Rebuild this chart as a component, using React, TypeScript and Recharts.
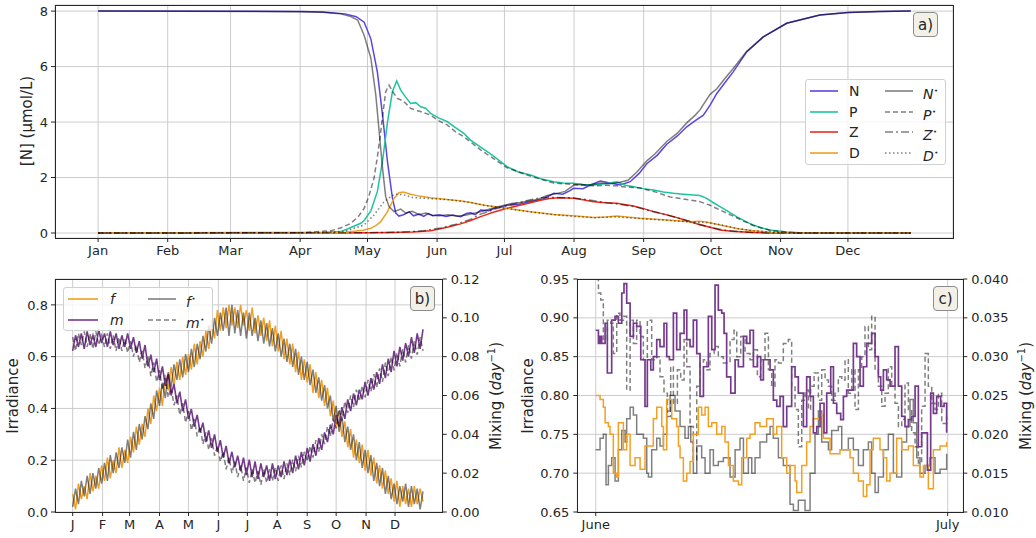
import React from 'react';
import { LineChart, Line, XAxis, YAxis, CartesianGrid } from 'recharts';

const FONT = '"DejaVu Sans", sans-serif';
const INK = '#262626';
const GRID = '#c6c6c6';
const STAR = '#000000';

// colours
const C_N = '#5b46e0';
const C_P = '#1ec4a2';
const C_Z = '#ec2d1e';
const C_D = '#eca128';
const C_F = '#f29f22';
const C_M = '#763a8c';

// ---------- panel a: seasonal NPZD ----------
const MONTH_DAYS = [0, 31, 59, 90, 120, 151, 181, 212, 243, 273, 304, 334];
const MONTHS = ['Jan', 'Feb', 'Mar', 'Apr', 'May', 'Jun', 'Jul', 'Aug', 'Sep', 'Oct', 'Nov', 'Dec'];
const MONTH_LETTERS = ['J', 'F', 'M', 'A', 'M', 'J', 'J', 'A', 'S', 'O', 'N', 'D'];
const A_TICKS = [0, 2, 4, 6, 8];

const N_X = [0, 90, 100, 110, 115, 118.5, 121.5, 124.4, 126.7, 128.9, 131.1, 132.6, 134, 136, 138.6, 140.5, 143, 145, 147, 149, 152, 155, 158, 161.5, 164, 166, 168, 170.4, 174, 177, 180, 182.2, 187, 190, 192.6, 198, 203, 207, 210, 211.8, 216, 219, 223.7, 228, 232.6, 237, 241, 244.4, 249, 253.3, 258, 262.2, 266, 269.6, 272.6, 275.6, 279, 282.9, 288.9, 296.3, 306.7, 321.5, 334, 348, 362];
const N_Y = [8.0, 7.99, 7.97, 7.9, 7.8, 7.6, 7.0, 5.8, 4.25, 2.57, 1.26, 0.72, 0.61, 0.66, 0.76, 0.62, 0.68, 0.6, 0.7, 0.62, 0.66, 0.6, 0.65, 0.59, 0.7, 0.73, 0.66, 0.83, 0.8, 0.9, 0.95, 1.0, 1.03, 1.08, 1.13, 1.22, 1.43, 1.4, 1.52, 1.61, 1.6, 1.72, 1.87, 1.8, 1.73, 1.85, 2.15, 2.5, 2.8, 3.2, 3.5, 3.83, 4.05, 4.25, 4.61, 5.03, 5.4, 5.81, 6.53, 7.07, 7.56, 7.86, 7.95, 7.99, 8.0];

const NS_X = [0, 90, 100, 108, 112.6, 115.6, 118.5, 121.5, 123.7, 125.2, 126.7, 128.1, 129.6, 131.8, 134.8, 137, 140, 143, 146, 149, 152, 156, 160, 164, 168, 172, 176, 180, 184, 188, 192, 196, 200, 204, 208, 212, 215, 218, 221, 224, 228, 232, 236, 240, 244.4, 248, 253.3, 258, 262.2, 266, 268, 272.6, 275.6, 279, 282.9, 288.9, 296.3, 306.7, 321.5, 334, 348, 362];
const NS_Y = [8.0, 7.98, 7.96, 7.9, 7.8, 7.68, 7.13, 6.3, 4.97, 3.65, 2.33, 1.31, 0.95, 0.77, 0.86, 0.72, 0.78, 0.66, 0.72, 0.64, 0.62, 0.66, 0.6, 0.65, 0.72, 0.8, 0.9, 0.98, 1.06, 1.1, 1.15, 1.22, 1.35, 1.42, 1.5, 1.73, 1.75, 1.72, 1.76, 1.8, 1.78, 1.82, 1.9, 2.2, 2.6, 2.85, 3.3, 3.6, 3.97, 4.25, 4.43, 5.0, 5.2, 5.55, 5.93, 6.55, 7.07, 7.56, 7.86, 7.95, 7.99, 8.0];

const P_X = [0, 100, 108.1, 112.6, 117, 118.5, 121.5, 124.4, 126.7, 128.9, 131.1, 133, 134.8, 137, 139.2, 141.5, 143.7, 145.9, 148.1, 151.7, 155.6, 159.2, 162.9, 165.9, 170.4, 174.8, 182.2, 187.2, 192.6, 197.5, 203, 207.2, 211.8, 216.1, 220.7, 225.9, 231.1, 234.8, 238.5, 242.8, 247.4, 251.7, 256.3, 260.6, 263.7, 268.1, 271.1, 273.9, 277, 280.6, 284.4, 288.1, 291.8, 295.2, 299.2, 306.7, 312.6, 321.5, 362];
const P_Y = [0, 0.02, 0.05, 0.2, 0.35, 0.45, 0.8, 1.5, 2.6, 4.0, 5.1, 5.48, 5.15, 4.9, 4.67, 4.7, 4.55, 4.5, 4.31, 4.15, 4.01, 3.8, 3.59, 3.35, 3.1, 2.85, 2.39, 2.2, 2.09, 1.95, 1.85, 1.8, 1.79, 1.75, 1.73, 1.78, 1.85, 1.72, 1.67, 1.6, 1.55, 1.48, 1.43, 1.4, 1.38, 1.35, 1.25, 1.1, 0.95, 0.78, 0.59, 0.43, 0.29, 0.19, 0.11, 0.04, 0.01, 0, 0];

const PS_X = [0, 90.4, 103.7, 108, 112.6, 116, 118.5, 120.5, 122.9, 124.5, 125.9, 127, 128.1, 129.6, 131.2, 133.3, 136.1, 139.2, 142.8, 148.1, 151.7, 155.6, 159.2, 162.9, 170.4, 174.8, 182.2, 192.6, 203, 211.8, 220.7, 225.9, 231.1, 234.8, 241.5, 247.4, 254.8, 261.5, 268.1, 272.6, 277, 284.4, 291.8, 299.2, 306.7, 312.6, 362];
const PS_Y = [0, 0.01, 0.08, 0.18, 0.35, 0.6, 0.89, 1.3, 1.97, 2.8, 3.65, 4.4, 5.09, 5.33, 5.1, 4.85, 4.75, 4.49, 4.4, 4.25, 4.05, 3.89, 3.65, 3.47, 3.0, 2.75, 2.35, 2.05, 1.8, 1.75, 1.7, 1.72, 1.7, 1.66, 1.62, 1.5, 1.3, 1.22, 1.13, 1.0, 0.83, 0.55, 0.27, 0.1, 0.03, 0, 0];

const Z_X = [0, 100, 120, 130, 140, 148.1, 152.6, 156, 161.5, 166, 170.4, 176, 182.2, 187, 192.6, 197, 201.8, 206, 211.8, 216, 220.7, 226, 231.1, 235, 238.5, 243, 247.4, 252, 256.3, 262.2, 268, 273, 277, 282, 291.8, 300, 362];
const Z_Y = [0, 0, 0.01, 0.02, 0.04, 0.08, 0.15, 0.22, 0.33, 0.45, 0.59, 0.75, 0.89, 0.98, 1.09, 1.18, 1.25, 1.27, 1.25, 1.2, 1.13, 1.09, 1.07, 1.02, 0.97, 0.88, 0.77, 0.68, 0.59, 0.45, 0.3, 0.2, 0.11, 0.06, 0.02, 0, 0];

const ZS_X = [0, 120, 135, 145, 152.6, 160, 166, 170.4, 176, 182.2, 187, 192.6, 197, 203, 208, 212, 216, 221, 226, 231, 235, 239, 243, 248, 252, 257, 262, 268, 273, 278, 285, 295, 300, 362];
const ZS_Y = [0, 0.01, 0.03, 0.08, 0.18, 0.33, 0.5, 0.68, 0.84, 1.0, 1.08, 1.2, 1.27, 1.28, 1.27, 1.26, 1.22, 1.16, 1.1, 1.05, 1.0, 0.95, 0.86, 0.76, 0.68, 0.57, 0.45, 0.31, 0.2, 0.12, 0.05, 0.01, 0, 0];

const D_X = [0, 100, 110, 118, 121.5, 124, 125.9, 128.9, 131.8, 134, 136, 139.2, 143, 148.1, 155.6, 162, 166, 172, 182.2, 192.6, 203, 211.8, 220.7, 226, 231.1, 241.5, 253.3, 263.7, 268, 271, 277, 285, 291.8, 300, 310, 362];
const D_Y = [0, 0, 0.03, 0.1, 0.17, 0.28, 0.41, 0.77, 1.25, 1.45, 1.48, 1.4, 1.33, 1.27, 1.21, 1.15, 1.1, 1.0, 0.89, 0.77, 0.67, 0.62, 0.56, 0.58, 0.61, 0.53, 0.47, 0.41, 0.42, 0.4, 0.29, 0.15, 0.08, 0.03, 0, 0];

const DS_X = [0, 100, 110, 118.5, 122.9, 127.4, 131, 133, 136, 140, 148, 156, 166, 172, 182.2, 192.6, 203, 212, 221, 226, 231, 241.5, 253, 263.7, 271, 277, 285, 292, 300, 310, 362];
const DS_Y = [0, 0.01, 0.06, 0.29, 0.65, 1.13, 1.35, 1.4, 1.38, 1.28, 1.24, 1.2, 1.1, 1.0, 0.88, 0.76, 0.66, 0.6, 0.55, 0.57, 0.58, 0.52, 0.46, 0.4, 0.38, 0.3, 0.16, 0.08, 0.03, 0, 0];

// ---------- panel b: yearly forcing (every 3 days) ----------
const B_DAYS = [
  0, 3, 6, 9, 12, 15, 18, 21, 24, 27,
  30, 33, 36, 39, 42, 45, 48, 51, 54, 57,
  60, 63, 66, 69, 72, 75, 78, 81, 84, 87,
  90, 93, 96, 99, 102, 105, 108, 111, 114, 117,
  120, 123, 126, 129, 132, 135, 138, 141, 144, 147,
  150, 153, 156, 159, 162, 165, 168, 171, 174, 177,
  180, 183, 186, 189, 192, 195, 198, 201, 204, 207,
  210, 213, 216, 219, 222, 225, 228, 231, 234, 237,
  240, 243, 246, 249, 252, 255, 258, 261, 264, 267,
  270, 273, 276, 279, 282, 285, 288, 291, 294, 297,
  300, 303, 306, 309, 312, 315, 318, 321, 324, 327,
  330, 333, 336, 339, 342, 345, 348, 351, 354, 357,
  360, 363,
];
const B_F = [
  0.07, 0.01, 0.11, 0.05, 0.10, 0.05, 0.15, 0.08, 0.14, 0.09,
  0.18, 0.12, 0.21, 0.13, 0.20, 0.15, 0.25, 0.17, 0.24, 0.19,
  0.29, 0.23, 0.33, 0.26, 0.34, 0.29, 0.40, 0.34, 0.45, 0.39,
  0.48, 0.41, 0.53, 0.47, 0.56, 0.49, 0.58, 0.51, 0.60, 0.53,
  0.61, 0.55, 0.65, 0.57, 0.66, 0.60, 0.70, 0.63, 0.74, 0.67,
  0.78, 0.70, 0.79, 0.71, 0.80, 0.72, 0.79, 0.71, 0.80, 0.72,
  0.78, 0.70, 0.79, 0.69, 0.76, 0.68, 0.75, 0.66, 0.74, 0.64,
  0.72, 0.62, 0.70, 0.59, 0.67, 0.57, 0.65, 0.54, 0.62, 0.51,
  0.59, 0.50, 0.57, 0.46, 0.54, 0.44, 0.51, 0.41, 0.48, 0.37,
  0.43, 0.33, 0.39, 0.29, 0.35, 0.25, 0.32, 0.21, 0.28, 0.19,
  0.26, 0.16, 0.24, 0.14, 0.21, 0.11, 0.18, 0.09, 0.16, 0.07,
  0.13, 0.04, 0.12, 0.02, 0.10, 0.03, 0.09, 0.02, 0.10, 0.03,
  0.09, 0.04,
];
const B_FS = [
  0.02, 0.09, 0.03, 0.12, 0.06, 0.14, 0.07, 0.15, 0.09, 0.17,
  0.11, 0.19, 0.12, 0.22, 0.15, 0.23, 0.17, 0.25, 0.19, 0.28,
  0.21, 0.31, 0.24, 0.34, 0.28, 0.37, 0.32, 0.42, 0.36, 0.47,
  0.41, 0.50, 0.44, 0.54, 0.48, 0.57, 0.51, 0.59, 0.52, 0.61,
  0.54, 0.63, 0.56, 0.65, 0.59, 0.68, 0.62, 0.72, 0.65, 0.75,
  0.68, 0.77, 0.70, 0.79, 0.68, 0.80, 0.69, 0.78, 0.68, 0.77,
  0.67, 0.77, 0.68, 0.75, 0.66, 0.74, 0.65, 0.73, 0.64, 0.71,
  0.62, 0.69, 0.60, 0.67, 0.58, 0.65, 0.56, 0.63, 0.53, 0.60,
  0.51, 0.58, 0.49, 0.55, 0.46, 0.52, 0.43, 0.49, 0.40, 0.45,
  0.35, 0.41, 0.31, 0.37, 0.27, 0.33, 0.24, 0.30, 0.20, 0.27,
  0.17, 0.24, 0.15, 0.22, 0.12, 0.19, 0.10, 0.17, 0.07, 0.14,
  0.05, 0.11, 0.03, 0.10, 0.04, 0.11, 0.02, 0.10, 0.03, 0.09,
  0.01, 0.08,
];
const B_M = [
  0.083, 0.091, 0.085, 0.092, 0.084, 0.093, 0.086, 0.091, 0.085, 0.094,
  0.087, 0.092, 0.085, 0.093, 0.086, 0.092, 0.084, 0.091, 0.085, 0.092,
  0.084, 0.090, 0.082, 0.088, 0.079, 0.086, 0.075, 0.081, 0.072, 0.079,
  0.068, 0.075, 0.065, 0.071, 0.060, 0.066, 0.056, 0.062, 0.052, 0.058,
  0.048, 0.053, 0.044, 0.050, 0.041, 0.046, 0.036, 0.042, 0.033, 0.040,
  0.031, 0.037, 0.028, 0.034, 0.025, 0.031, 0.023, 0.029, 0.021, 0.028,
  0.019, 0.027, 0.018, 0.026, 0.017, 0.025, 0.018, 0.024, 0.016, 0.025,
  0.017, 0.024, 0.018, 0.026, 0.019, 0.027, 0.020, 0.029, 0.022, 0.031,
  0.024, 0.033, 0.026, 0.035, 0.029, 0.038, 0.032, 0.041, 0.036, 0.045,
  0.040, 0.050, 0.044, 0.054, 0.048, 0.058, 0.052, 0.061, 0.055, 0.063,
  0.058, 0.067, 0.060, 0.069, 0.063, 0.072, 0.066, 0.076, 0.069, 0.079,
  0.072, 0.083, 0.075, 0.085, 0.078, 0.087, 0.080, 0.090, 0.082, 0.092,
  0.084, 0.094,
];
const B_MS = [
  0.090, 0.083, 0.092, 0.086, 0.093, 0.085, 0.092, 0.084, 0.093, 0.086,
  0.091, 0.085, 0.092, 0.084, 0.091, 0.083, 0.090, 0.083, 0.089, 0.082,
  0.088, 0.080, 0.086, 0.077, 0.083, 0.074, 0.080, 0.070, 0.077, 0.067,
  0.073, 0.063, 0.069, 0.059, 0.064, 0.055, 0.060, 0.050, 0.056, 0.046,
  0.052, 0.042, 0.048, 0.039, 0.044, 0.035, 0.041, 0.032, 0.038, 0.029,
  0.034, 0.026, 0.031, 0.022, 0.028, 0.020, 0.026, 0.018, 0.024, 0.016,
  0.023, 0.015, 0.022, 0.015, 0.021, 0.014, 0.022, 0.015, 0.022, 0.016,
  0.023, 0.016, 0.024, 0.017, 0.025, 0.019, 0.027, 0.021, 0.029, 0.023,
  0.031, 0.026, 0.034, 0.028, 0.037, 0.031, 0.040, 0.035, 0.044, 0.039,
  0.048, 0.043, 0.053, 0.047, 0.057, 0.051, 0.060, 0.054, 0.063, 0.057,
  0.065, 0.059, 0.068, 0.062, 0.071, 0.064, 0.074, 0.067, 0.077, 0.070,
  0.080, 0.073, 0.082, 0.075, 0.084, 0.077, 0.086, 0.079, 0.088, 0.081,
  0.090, 0.083,
];

// ---------- panel c: June detail ----------
const CF_X = [0, 0.37, 0.65, 0.8, 1.08, 1.22, 1.5, 1.79, 1.93, 2.36, 2.64, 2.93, 3.35, 3.78, 4.2, 4.91, 5.2, 5.63, 5.77, 6.05, 6.48, 6.9, 7.05, 7.19, 7.47, 7.76, 8.04, 8.32, 8.75, 9.03, 9.32, 9.6, 9.89, 10.31, 10.74, 11.02, 11.31, 11.73, 12.16, 12.44, 12.87, 13.15, 13.58, 14.0, 14.57, 15.14, 15.43, 15.85, 16.28, 16.56, 16.99, 17.13, 17.56, 17.98, 18.27, 18.55, 19.12, 19.4, 19.97, 20.82, 21.68, 21.96, 22.39, 22.81, 23.1, 23.38, 23.66, 24.23, 24.52, 24.8, 25.09, 25.65, 26.08, 26.65, 27.07, 27.64, 27.93, 28.35, 28.78, 29.35, 29.91];
const CF_Y = [0.80, 0.795, 0.785, 0.765, 0.76, 0.75, 0.70, 0.695, 0.765, 0.73, 0.75, 0.71, 0.72, 0.705, 0.735, 0.77, 0.785, 0.76, 0.73, 0.795, 0.77, 0.76, 0.735, 0.72, 0.69, 0.70, 0.715, 0.75, 0.785, 0.775, 0.785, 0.76, 0.765, 0.75, 0.76, 0.74, 0.71, 0.69, 0.685, 0.72, 0.745, 0.75, 0.765, 0.76, 0.77, 0.75, 0.76, 0.72, 0.70, 0.71, 0.69, 0.675, 0.71, 0.74, 0.76, 0.77, 0.775, 0.745, 0.725, 0.73, 0.72, 0.70, 0.69, 0.67, 0.685, 0.73, 0.745, 0.73, 0.72, 0.69, 0.70, 0.745, 0.73, 0.735, 0.71, 0.695, 0.71, 0.68, 0.73, 0.735, 0.74];

const CFS_X = [0, 0.37, 0.65, 0.88, 1.08, 1.36, 1.65, 1.93, 2.22, 2.5, 2.64, 2.93, 3.21, 3.49, 4.06, 4.35, 4.49, 4.77, 5.2, 5.48, 5.77, 6.05, 6.34, 6.76, 7.19, 7.61, 7.9, 8.1, 8.32, 8.61, 9.03, 9.32, 9.74, 10.03, 10.45, 10.88, 11.45, 11.88, 12.3, 12.59, 13.01, 13.3, 13.58, 14.0, 14.57, 14.86, 15.14, 15.57, 15.99, 16.56, 16.85, 17.27, 17.84, 18.27, 18.69, 18.98, 19.26, 19.83, 20.11, 20.68, 20.97, 21.53, 21.96, 22.39, 22.81, 23.24, 23.52, 23.81, 24.09, 24.52, 24.94, 25.37, 25.65, 26.08, 26.5, 26.79, 27.07, 27.36, 27.64, 28.07, 28.49, 28.92, 29.35, 29.91];
const CFS_Y = [0.73, 0.745, 0.75, 0.685, 0.71, 0.72, 0.69, 0.73, 0.755, 0.74, 0.77, 0.785, 0.775, 0.75, 0.745, 0.70, 0.695, 0.73, 0.745, 0.735, 0.75, 0.78, 0.80, 0.78, 0.76, 0.745, 0.76, 0.74, 0.70, 0.735, 0.72, 0.70, 0.73, 0.71, 0.715, 0.72, 0.695, 0.73, 0.745, 0.70, 0.72, 0.70, 0.72, 0.74, 0.75, 0.76, 0.745, 0.72, 0.71, 0.66, 0.652, 0.665, 0.652, 0.70, 0.75, 0.78, 0.74, 0.73, 0.755, 0.76, 0.73, 0.745, 0.73, 0.71, 0.73, 0.74, 0.70, 0.675, 0.695, 0.73, 0.75, 0.70, 0.695, 0.74, 0.76, 0.795, 0.765, 0.72, 0.70, 0.71, 0.72, 0.70, 0.705, 0.725];

const CM_X = [0, 0.23, 0.37, 0.51, 0.8, 0.99, 1.36, 1.65, 1.93, 2.22, 2.41, 2.64, 2.93, 3.21, 3.49, 3.84, 4.2, 4.4, 4.69, 4.91, 5.2, 5.48, 5.82, 6.05, 6.28, 6.62, 6.9, 7.19, 7.53, 7.76, 8.04, 8.32, 8.61, 8.89, 9.18, 9.6, 9.89, 10.17, 10.45, 10.74, 10.94, 11.16, 11.51, 11.88, 12.16, 12.59, 12.87, 13.15, 13.44, 13.78, 14.06, 14.29, 14.86, 15.14, 15.43, 15.71, 15.99, 16.28, 16.7, 16.99, 17.27, 17.7, 17.98, 18.27, 18.55, 18.84, 19.12, 19.46, 19.69, 20.03, 20.26, 20.54, 20.88, 21.11, 21.39, 21.96, 22.24, 22.53, 22.81, 23.1, 23.52, 23.81, 24.09, 24.29, 24.52, 24.8, 25.09, 25.51, 25.8, 26.08, 26.36, 26.65, 26.93, 27.22, 27.5, 27.78, 28.27, 28.55, 28.78, 29.06, 29.4, 29.69, 29.91];
const CM_Y = [0.0334, 0.0317, 0.0326, 0.0317, 0.0343, 0.0279, 0.0347, 0.0352, 0.0343, 0.0382, 0.0394, 0.0369, 0.0326, 0.0343, 0.0339, 0.0296, 0.0236, 0.0296, 0.0283, 0.0300, 0.0322, 0.0313, 0.0343, 0.0300, 0.0296, 0.0356, 0.0309, 0.0330, 0.0360, 0.0322, 0.0313, 0.0347, 0.0304, 0.0249, 0.0287, 0.0352, 0.0309, 0.0392, 0.0360, 0.0356, 0.0330, 0.0274, 0.0253, 0.0296, 0.0287, 0.0326, 0.0317, 0.0334, 0.0287, 0.0300, 0.0270, 0.0296, 0.0283, 0.0244, 0.0236, 0.0249, 0.0210, 0.0236, 0.0287, 0.0274, 0.0253, 0.0210, 0.0274, 0.0249, 0.0202, 0.0210, 0.0240, 0.0202, 0.0253, 0.0287, 0.0240, 0.0227, 0.0219, 0.0249, 0.0257, 0.0317, 0.0300, 0.0262, 0.0287, 0.0317, 0.0330, 0.0300, 0.0274, 0.0257, 0.0283, 0.0270, 0.0262, 0.0313, 0.0262, 0.0223, 0.0210, 0.0219, 0.0223, 0.0262, 0.0184, 0.0202, 0.0154, 0.0253, 0.0227, 0.0249, 0.0236, 0.0240, 0.0202];

const CMS_X = [0, 0.23, 0.43, 0.65, 0.99, 1.28, 1.5, 1.79, 2.07, 2.36, 2.64, 2.93, 3.21, 3.49, 3.78, 4.06, 4.4, 4.77, 5.2, 5.48, 5.82, 6.11, 6.39, 6.62, 6.96, 7.24, 7.53, 7.76, 8.04, 8.32, 8.61, 8.89, 9.18, 9.46, 9.74, 10.09, 10.45, 10.88, 11.45, 11.79, 12.02, 12.36, 12.73, 13.15, 13.44, 13.78, 14.06, 14.43, 14.72, 15.0, 15.28, 15.57, 15.99, 16.42, 16.7, 16.99, 17.27, 17.56, 17.84, 18.13, 18.32, 18.61, 18.98, 19.26, 19.55, 19.83, 20.11, 20.4, 20.68, 20.97, 21.25, 21.53, 21.82, 22.1, 22.39, 22.67, 22.95, 23.24, 23.52, 23.81, 24.09, 24.38, 24.66, 24.94, 25.23, 25.51, 25.8, 26.08, 26.36, 26.65, 26.93, 27.22, 27.5, 27.78, 28.07, 28.35, 28.64, 28.92, 29.2, 29.49, 29.91];
const CMS_Y = [0.0400, 0.0382, 0.0373, 0.0322, 0.0347, 0.0343, 0.0304, 0.0356, 0.0347, 0.0352, 0.0257, 0.0347, 0.0317, 0.0347, 0.0326, 0.0296, 0.0347, 0.0296, 0.0300, 0.0274, 0.0253, 0.0223, 0.0287, 0.0240, 0.0283, 0.0270, 0.0322, 0.0287, 0.0210, 0.0167, 0.0262, 0.0292, 0.0296, 0.0283, 0.0304, 0.0313, 0.0300, 0.0292, 0.0322, 0.0334, 0.0300, 0.0326, 0.0304, 0.0296, 0.0309, 0.0274, 0.0296, 0.0330, 0.0283, 0.0262, 0.0296, 0.0292, 0.0317, 0.0322, 0.0262, 0.0232, 0.0184, 0.0244, 0.0257, 0.0232, 0.0262, 0.0279, 0.0244, 0.0283, 0.0270, 0.0262, 0.0244, 0.0253, 0.0274, 0.0270, 0.0296, 0.0253, 0.0283, 0.0232, 0.0283, 0.0300, 0.0339, 0.0309, 0.0352, 0.0283, 0.0262, 0.0236, 0.0253, 0.0287, 0.0262, 0.0240, 0.0210, 0.0219, 0.0266, 0.0232, 0.0202, 0.0184, 0.0163, 0.0236, 0.0304, 0.0262, 0.0240, 0.0232, 0.0253, 0.0214, 0.0223];

const C_LEFT_TICKS = [0.65, 0.7, 0.75, 0.8, 0.85, 0.9, 0.95];
const C_RIGHT_TICKS = [0.01, 0.015, 0.02, 0.025, 0.03, 0.035, 0.04];
const C_X_TICKS = [0, 30];
const C_X_LABELS = ['June', 'July'];

const pts = (xs: number[], ys: number[]) => xs.map((x, i) => ({ x, y: ys[i] }));

const tickStyle = { fill: INK, fontSize: 13, fontFamily: FONT };

const Frame = ({ left, top, width, height }: { left: number; top: number; width: number; height: number }) => (
  <div style={{ position: 'absolute', left: left - 0.5, top: top - 0.5, width: width + 1, height: height + 1, border: `1px solid ${INK}`, boxSizing: 'border-box', pointerEvents: 'none' }} />
);

const Tag = ({ left, top, text }: { left: number; top: number; text: string }) => (
  <div style={{ position: 'absolute', left, top, width: 25, height: 25, boxSizing: 'border-box', border: '1px solid #8c8c8c', borderRadius: 4, background: '#f3f0e7', fontFamily: FONT, fontSize: 15, color: INK, display: 'flex', alignItems: 'center', justifyContent: 'center' }}>{text}</div>
);

const VLabel = ({ x, y, size, children }: { x: number; y: number; size: number; children: React.ReactNode }) => (
  <div style={{ position: 'absolute', left: x, top: y, transform: 'translate(-50%, -50%) rotate(-90deg)', whiteSpace: 'nowrap', fontFamily: FONT, fontSize: size, color: INK }}>{children}</div>
);

const Swatch = ({ x, y, color, dash, opacity = 1, w = 28 }: { x: number; y: number; color: string; dash?: string; opacity?: number; w?: number }) => (
  <svg style={{ position: 'absolute', left: x, top: y - 5 }} width={w} height={10}>
    <line x1={0} y1={5} x2={w} y2={5} stroke={color} strokeOpacity={opacity} strokeWidth={1.6} strokeDasharray={dash} />
  </svg>
);

const LegText = ({ x, y, children, italic }: { x: number; y: number; children: React.ReactNode; italic?: boolean }) => (
  <div style={{ position: 'absolute', left: x, top: y - 9, lineHeight: '18px', fontFamily: FONT, fontSize: 14, color: INK, fontStyle: italic ? 'italic' : 'normal', whiteSpace: 'nowrap' }}>{children}</div>
);

const Star = () => <sup style={{ fontSize: 8, fontStyle: 'normal', verticalAlign: 6 }}>⋆</sup>;

const line = (key: string, data: any[], stroke: string, extra: any = {}) => (
  <Line key={key} data={data} dataKey="y" type="linear" stroke={stroke} strokeWidth={1.5} dot={false} isAnimationActive={false} {...extra} />
);

const PanelA = () => (
  <div style={{ position: 'absolute', left: 0, top: 0 }}>
    <LineChart width={1036} height={270} margin={{ top: 5, right: 83, bottom: 7, left: 0 }}>
      <CartesianGrid stroke={GRID} strokeWidth={0.9} />
      <XAxis type="number" dataKey="x" domain={[-19.2, 380.8]} ticks={MONTH_DAYS} interval={0} allowDataOverflow
        tickFormatter={(v: number) => MONTHS[MONTH_DAYS.indexOf(v)]} height={25} axisLine={false}
        tickLine={{ stroke: INK }} tickSize={4} tickMargin={4} tick={tickStyle} />
      <YAxis type="number" domain={[-0.18, 8.22]} ticks={A_TICKS} interval={0} allowDataOverflow width={55}
        axisLine={false} tickLine={{ stroke: INK }} tickSize={4} tickMargin={3} tick={tickStyle} />
      {line('N', pts(N_X, N_Y), C_N)}
      {line('P', pts(P_X, P_Y), C_P)}
      {line('Z', pts(Z_X, Z_Y), C_Z)}
      {line('D', pts(D_X, D_Y), C_D)}
      {line('Ns', pts(NS_X, NS_Y), STAR, { strokeOpacity: 0.5 })}
      {line('Ps', pts(PS_X, PS_Y), STAR, { strokeOpacity: 0.5, strokeDasharray: '5 3' })}
      {line('Zs', pts(ZS_X, ZS_Y), STAR, { strokeOpacity: 0.5, strokeDasharray: '8 3 2 3' })}
      {line('Ds', pts(DS_X, DS_Y), STAR, { strokeOpacity: 0.5, strokeDasharray: '1.5 2.5' })}
    </LineChart>
  </div>
);

const PanelB = () => (
  <div style={{ position: 'absolute', left: 0, top: 260 }}>
    <LineChart width={520} height={278} margin={{ top: 19, right: 27.3, bottom: 6, left: 0 }}>
      <CartesianGrid stroke={GRID} strokeWidth={0.9} />
      <XAxis type="number" dataKey="x" domain={[-18.3, 383.4]} ticks={MONTH_DAYS} interval={0} allowDataOverflow
        tickFormatter={(v: number) => MONTH_LETTERS[MONTH_DAYS.indexOf(v)]} height={20} axisLine={false}
        tickLine={{ stroke: INK }} tickSize={4} tickMargin={4} tick={tickStyle} />
      <YAxis type="number" domain={[0, 0.9]} ticks={[0, 0.2, 0.4, 0.6, 0.8]} interval={0} allowDataOverflow width={55}
        tickFormatter={(v: number) => v.toFixed(1)} axisLine={false} tickLine={{ stroke: INK }} tickSize={4} tickMargin={3} tick={tickStyle} />
      <YAxis yAxisId="r" orientation="right" type="number" domain={[0, 0.12]} ticks={[0, 0.02, 0.04, 0.06, 0.08, 0.1, 0.12]}
        interval={0} allowDataOverflow width={50} tickFormatter={(v: number) => v.toFixed(2)} axisLine={false}
        tickLine={{ stroke: INK }} tickSize={4} tickMargin={4} tick={tickStyle} />
      {line('f', pts(B_DAYS, B_F), C_F)}
      {line('m', pts(B_DAYS, B_M), C_M, { yAxisId: 'r', strokeWidth: 1.6 })}
      {line('fs', pts(B_DAYS, B_FS), STAR, { strokeOpacity: 0.5 })}
      {line('ms', pts(B_DAYS, B_MS), STAR, { strokeOpacity: 0.5, strokeDasharray: '5 3', yAxisId: 'r' })}
    </LineChart>
  </div>
);

const PanelC = () => (
  <div style={{ position: 'absolute', left: 520, top: 260 }}>
    <LineChart width={516} height={278} margin={{ top: 19, right: 22.7, bottom: 6, left: 0 }}>
      <CartesianGrid stroke={GRID} strokeWidth={0.9} />
      <XAxis type="number" dataKey="x" domain={[-1.57, 31.33]} ticks={C_X_TICKS} interval={0} allowDataOverflow
        tickFormatter={(v: number) => C_X_LABELS[C_X_TICKS.indexOf(v)]} height={20} axisLine={false}
        tickLine={{ stroke: INK }} tickSize={4} tickMargin={4} tick={tickStyle} />
      <YAxis type="number" domain={[0.65, 0.95]} ticks={C_LEFT_TICKS} interval={0} allowDataOverflow width={57.3}
        tickFormatter={(v: number) => v.toFixed(2)} axisLine={false} tickLine={{ stroke: INK }} tickSize={4} tickMargin={4} tick={tickStyle} />
      <YAxis yAxisId="r" orientation="right" type="number" domain={[0.01, 0.04]} ticks={C_RIGHT_TICKS} interval={0}
        allowDataOverflow width={50} tickFormatter={(v: number) => v.toFixed(3)} axisLine={false}
        tickLine={{ stroke: INK }} tickSize={4} tickMargin={4} tick={tickStyle} />
      {line('cfs', pts(CFS_X, CFS_Y), STAR, { strokeOpacity: 0.5, type: 'stepAfter' })}
      {line('cms', pts(CMS_X, CMS_Y), STAR, { strokeOpacity: 0.5, strokeDasharray: '5 3', yAxisId: 'r', type: 'stepAfter' })}
      {line('cf', pts(CF_X, CF_Y), C_F, { type: 'stepAfter' })}
      {line('cm', pts(CM_X, CM_Y), C_M, { yAxisId: 'r', type: 'stepAfter', strokeWidth: 1.7 })}
    </LineChart>
  </div>
);

export default function App() {
  return (
    <div style={{ position: 'absolute', left: 0, top: 0, width: 1036, height: 538, background: '#fff', overflow: 'hidden', fontFamily: FONT }}>
      <PanelA />
      <PanelB />
      <PanelC />

      <Frame left={55} top={5} width={898} height={233} />
      <Frame left={55} top={279} width={387.7} height={233} />
      <Frame left={577.3} top={279} width={386} height={233} />

      <VLabel x={27} y={121} size={15}>[N] (µmol/L)</VLabel>
      <VLabel x={13} y={396} size={15}>Irradiance</VLabel>
      <VLabel x={495} y={396} size={15}>Mixing (<i>day</i><sup style={{ fontSize: 10 }}>−1</sup>)</VLabel>
      <VLabel x={528} y={396} size={15}>Irradiance</VLabel>
      <VLabel x={1025} y={396} size={15}>Mixing (<i>day</i><sup style={{ fontSize: 10 }}>−1</sup>)</VLabel>

      {/* legend a */}
      <div style={{ position: 'absolute', left: 805, top: 79, width: 141, height: 86, boxSizing: 'border-box', background: 'rgba(255,255,255,0.8)', border: '1px solid #d0d0d0', borderRadius: 3 }}>
        <Swatch x={4} y={11} color={C_N} />
        <Swatch x={4} y={31.5} color={C_P} />
        <Swatch x={4} y={52} color={C_Z} />
        <Swatch x={4} y={72.5} color={C_D} />
        <LegText x={43} y={11}>N</LegText>
        <LegText x={43} y={31.5}>P</LegText>
        <LegText x={43} y={52}>Z</LegText>
        <LegText x={43} y={72.5}>D</LegText>
        <Swatch x={79} y={11} color={STAR} opacity={0.5} />
        <Swatch x={79} y={31.5} color={STAR} opacity={0.5} dash="5 3" />
        <Swatch x={79} y={52} color={STAR} opacity={0.5} dash="8 3 2 3" />
        <Swatch x={79} y={72.5} color={STAR} opacity={0.5} dash="1.5 2.5" />
        <LegText x={117} y={11} italic>N<Star /></LegText>
        <LegText x={117} y={31.5} italic>P<Star /></LegText>
        <LegText x={117} y={52} italic>Z<Star /></LegText>
        <LegText x={117} y={72.5} italic>D<Star /></LegText>
      </div>

      {/* legend b */}
      <div style={{ position: 'absolute', left: 63, top: 287, width: 150, height: 44, boxSizing: 'border-box', background: 'rgba(255,255,255,0.8)', border: '1px solid #d0d0d0', borderRadius: 3 }}>
        <Swatch x={4} y={10.5} color={C_F} w={30} />
        <Swatch x={4} y={32} color={C_M} w={30} />
        <LegText x={46} y={10.5} italic>f</LegText>
        <LegText x={46} y={32} italic>m</LegText>
        <Swatch x={84} y={10.5} color={STAR} opacity={0.5} w={28} />
        <Swatch x={84} y={32} color={STAR} opacity={0.5} dash="5 3" w={28} />
        <LegText x={122} y={10.5} italic>f<Star /></LegText>
        <LegText x={122} y={32} italic>m<Star /></LegText>
      </div>

      <Tag left={913} top={12} text="a)" />
      <Tag left={410} top={286} text="b)" />
      <Tag left={933} top={286} text="c)" />
    </div>
  );
}
